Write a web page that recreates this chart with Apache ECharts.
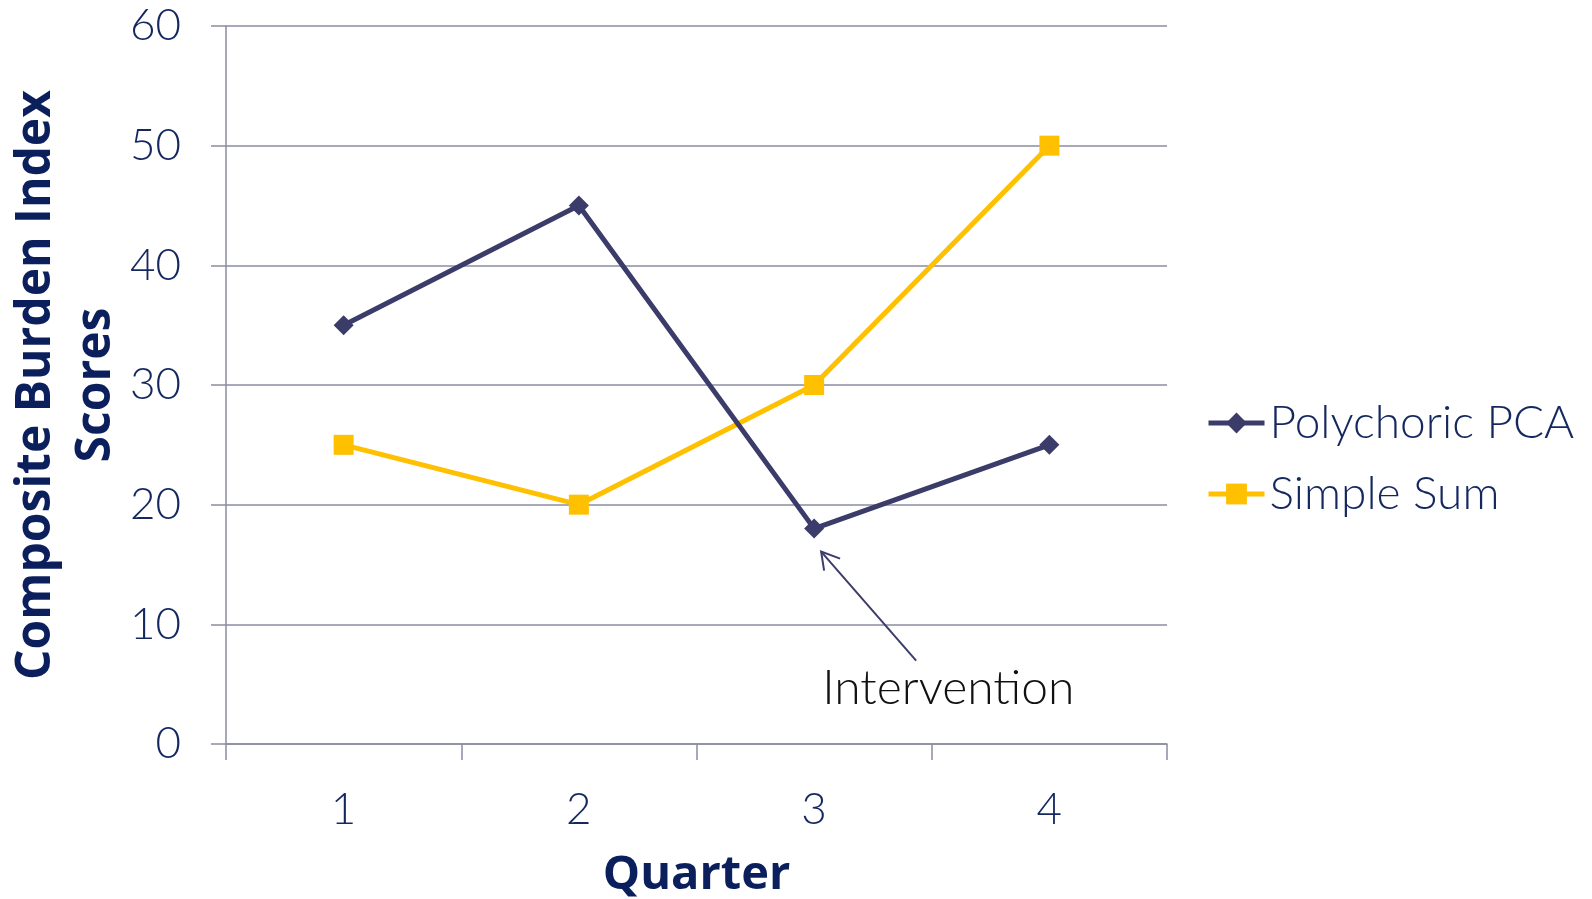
<!DOCTYPE html>
<html>
<head>
    <meta charset="UTF-8">
    <title>Composite Burden Index</title>
    <script src="https://cdn.jsdelivr.net/npm/echarts@6/dist/echarts.min.js"></script>
    <style>
        html, body { margin: 0; padding: 0; height: 100%; background: #fff; }
        #chart { width: 1592px; height: 899px; }
    </style>
</head>
<body>
<div id="chart"></div>
<script>
    // data
    var quarters = ['1', '2', '3', '4'];
    var polychoricPCA = [35, 45, 18, 25];
    var simpleSum = [25, 20, 30, 50];
    var yTicks = { min: 0, max: 60, interval: 10 };

    var navy = '#14275f';
    var axisGray = '#8a8da2';
    var lightFont = 'Lato';
    var boldFont = '"Open Sans"';

    var chart = echarts.init(document.getElementById('chart'));

    var option = {
        animation: false,
        grid: { left: 226, right: 425, top: 26, bottom: 155, outerBoundsMode: 'none', containLabel: false },
        legend: {
            orient: 'vertical',
            left: 1201,
            top: 395,
            itemWidth: 56,
            itemHeight: 26,
            itemGap: 25,
            lineStyle: { width: 5 },
            textStyle: { fontFamily: lightFont, fontWeight: 300, fontSize: 46, color: navy },
            data: ['Polychoric PCA', 'Simple Sum']
        },
        xAxis: {
            type: 'category',
            data: quarters,
            boundaryGap: true,
            axisLine: { lineStyle: { color: axisGray, width: 1.5 } },
            axisTick: { show: true, alignWithLabel: false, length: 16, lineStyle: { color: axisGray, width: 1.5 } },
            axisLabel: { fontFamily: lightFont, fontWeight: 300, fontSize: 44, color: navy, margin: 44 },
            name: 'Quarter',
            nameLocation: 'middle',
            nameGap: 108,
            nameMoveOverlap: false,
            nameTextStyle: { fontFamily: boldFont, fontWeight: 'bold', fontSize: 47, color: '#0b1f5c' }
        },
        yAxis: {
            type: 'value',
            min: yTicks.min,
            max: yTicks.max,
            interval: yTicks.interval,
            axisLine: { show: true, lineStyle: { color: axisGray, width: 1.5 } },
            axisTick: { show: true, length: 15, lineStyle: { color: axisGray, width: 1.5 } },
            splitLine: { lineStyle: { color: axisGray, width: 1.5 } },
            axisLabel: { fontFamily: lightFont, fontWeight: 300, fontSize: 44, color: navy, margin: 45 },
            name: 'Composite Burden Index\nScores',
            nameLocation: 'middle',
            nameRotate: 90,
            nameGap: 100,
            nameMoveOverlap: false,
            nameTextStyle: {
                fontFamily: boldFont, fontWeight: 'bold', fontSize: 48, color: '#0b1f5c',
                lineHeight: 60, align: 'center'
            }
        },
        series: [
            {
                name: 'Polychoric PCA',
                type: 'line',
                data: polychoricPCA,
                symbol: 'diamond',
                symbolSize: 20,
                color: '#3b3c6a',
                lineStyle: { width: 5 },
                z: 3
            },
            {
                name: 'Simple Sum',
                type: 'line',
                data: simpleSum,
                symbol: 'rect',
                symbolSize: 20,
                color: '#ffc000',
                lineStyle: { width: 5 },
                z: 2
            }
        ]
    };
    chart.setOption(option);

    // annotation arrow pointing at the quarter-3 dip
    var p = chart.convertToPixel({ gridIndex: 0 }, [2, polychoricPCA[2]]);
    var tip = [p[0] + 7, p[1] + 23];
    var tail = [tip[0] + 95, tip[1] + 109];
    chart.setOption({
        graphic: [
            {
                type: 'polyline',
                shape: { points: [tail, tip] },
                style: { stroke: '#3b3c6a', lineWidth: 2, fill: null }
            },
            {
                type: 'polyline',
                shape: { points: [[tip[0] + 19, tip[1] + 7], tip, [tip[0] + 3, tip[1] + 19]] },
                style: { stroke: '#3b3c6a', lineWidth: 2, fill: null }
            },
            {
                type: 'text',
                left: tip[0] + 1,
                top: tail[1] + 4,
                style: { text: 'Intervention', fontFamily: lightFont, fontWeight: 300, fontSize: 48, fill: '#111' }
            }
        ]
    });

    window.addEventListener('resize', function () { chart.resize(); });
</script>
</body>
</html>
